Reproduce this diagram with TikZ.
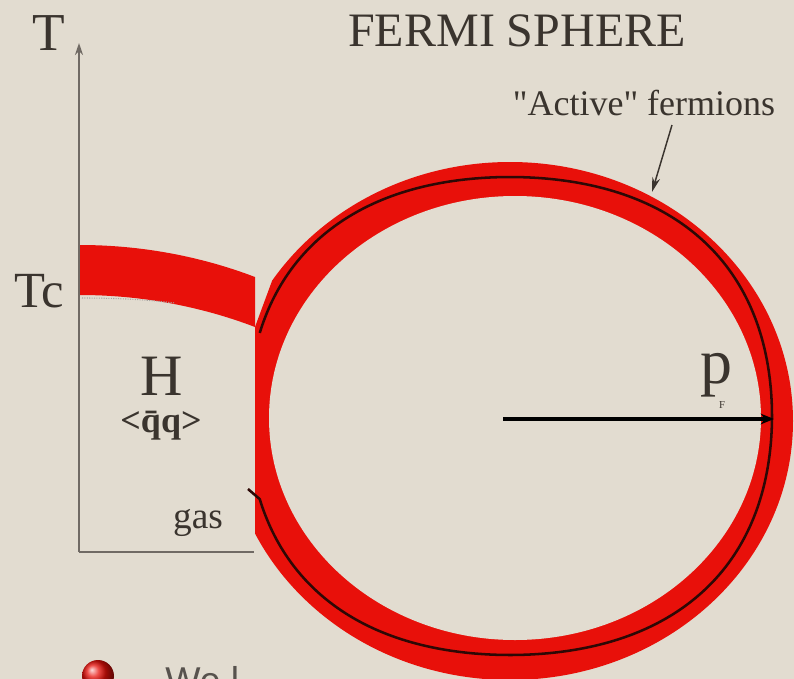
\documentclass[tikz,border=0pt]{standalone}
\usepackage{fontspec}
\setmainfont{Liberation Serif}
\setsansfont{Liberation Sans}
\usetikzlibrary{arrows.meta,shadings}
\definecolor{bg}{RGB}{226,220,208}
\definecolor{fred}{RGB}{232,16,10}
\definecolor{ink}{RGB}{58,52,46}
\definecolor{axisgray}{RGB}{112,106,100}
\definecolor{ringink}{RGB}{45,8,5}
\begin{document}
\begin{tikzpicture}[x=0.75pt,y=-0.75pt,
  lbl/.style={inner sep=0pt,outer sep=0pt,text=ink,anchor=base},
  axisline/.style={draw=axisgray,line width=1.4pt},
  ringline/.style={draw=ringink,line width=1.9pt,line join=round},
  pointer/.style={draw=ink,line width=1.1pt,-{Stealth[length=11pt,width=6pt]}}]
\useasboundingbox (0,0) rectangle (794,679);
\fill[bg] (0,0) rectangle (794,679);

% Fermi sphere: red shell (outer ellipse cut flat on the left)
\begin{scope}
  \clip (255,327) -- (272,281) -- (272,-10) -- (820,-10) -- (820,700) -- (255,700) -- cycle;
  \fill[fred] (510,421) ellipse[x radius=283, y radius=259];
\end{scope}
\fill[bg] (515,418) ellipse[x radius=246, y radius=222];

% black line inside the shell
\draw[ringline] plot[domain=-160:160,samples=160,smooth]
  ({510+262*cos(\x)*(1+0.04*(sin(2*\x))^2)},{416+239*sin(\x)*(1+0.04*(sin(2*\x))^2)}) -- (248,489);

% Tc band
\fill[fred] (80,245) .. controls (140,245) and (200,256) .. (255,277) -- (255,327) .. controls (200,306) and (140,295) .. (80,295) -- cycle;
\draw[axisgray!60,densely dotted,line width=0.8pt] (82,298) .. controls (120,298) and (150,300) .. (175,303);

% axes
\coordinate (orig) at (79,552);
\coordinate (ytip) at (79,43);
\coordinate (xend) at (254,552);
\draw[axisline,-{Stealth[length=9pt,width=6pt]}] (orig) -- (ytip);
\draw[axisline] (orig) -- (xend);

% labels
\node[lbl,font=\fontsize{40}{40}\selectfont] (tlab) at (49,50) {T};
\node[lbl,font=\fontsize{38}{38}\selectfont] (tclab) at (39,307) {Tc};
\node[lbl,font=\fontsize{36}{36}\selectfont] (title) at (517,46) {FERMI SPHERE};
\node[lbl,font=\fontsize{27}{27}\selectfont] (active) at (644,115) {\textquotedbl Active\textquotedbl{} fermions};
\node[lbl,font=\fontsize{44}{44}\selectfont] (hlab) at (162,395) {H};
\node[lbl,font=\fontsize{27}{27}\selectfont\bfseries] (qq) at (161,432) {<\={q}q>};
\node[lbl,font=\fontsize{28}{28}\selectfont] (gas) at (198,528) {gas};
\node[lbl,font=\fontsize{48}{48}\selectfont] (plab) at (716,383) {p};
\node[lbl,font=\fontsize{8}{8}\selectfont] (flab) at (722,408) {F};

% p_F arrow
\coordinate (ctr) at (503,419);
\coordinate (pfend) at (774,419);
\draw[draw=black,line width=2.6pt,-{Stealth[length=10pt,width=8pt]}] (ctr) -- (pfend);

% active fermions pointer
\coordinate (actstart) at (672,125);
\coordinate (acttip) at (652,192);
\draw[pointer] (actstart) -- (acttip);

% bottom bullet and cut-off text
\shade[ball color=fred] (98,676) circle[radius=16];
\node[inner sep=0pt,anchor=base west,text=ink!85,font=\sffamily\fontsize{28}{28}\selectfont] (welab) at (165,693) {We l};
\end{tikzpicture}
\end{document}
